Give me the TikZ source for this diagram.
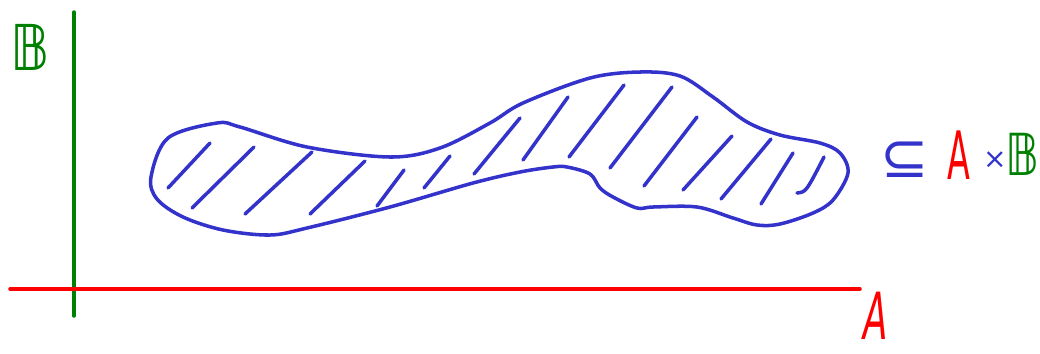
\documentclass[tikz,border=0pt]{standalone}
\usepackage{fontspec}
\usepackage{graphicx}
\newfontfamily\handfont{DejaVu Sans}
\definecolor{penblue}{RGB}{51,51,204}
\definecolor{penred}{RGB}{255,0,0}
\definecolor{pengreen}{RGB}{0,128,0}

\begin{document}
\begin{tikzpicture}[x=0.02cm, y=-0.02cm,
    pen/.style={line width=2pt, line cap=round, line join=round},
    hand/.style={inner sep=0pt, font=\fontsize{#1}{#1}\selectfont\handfont}]
    \useasboundingbox (0,0) rectangle (1040,353);

    % Axes
    \draw[pen, pengreen] (74,12) -- (74,316);
    \draw[pen, penred] (10,289) -- (860,289);

    % Axis labels
    \node[pengreen, hand=36] (labB) at (30,47) {\scalebox{0.85}[1]{𝔹}};
    \node[penred, hand=37] (labA) at (876,316) {\scalebox{0.55}[1]{\itshape A}};

    % The subset (outline)
    \draw[pen, penblue] plot[smooth cycle, tension=0.55] coordinates {
        (151,177) (168,138) (217,123) (240,127) (307,147) (390,157)
        (440,148) (490,123) (523,103) (590,78) (640,72) (680,76)
        (713,97) (747,122) (780,135) (820,143) (840,153) (848,173)
        (833,200) (813,213) (780,224) (757,225) (733,218) (697,207)
        (653,207) (637,208) (613,197) (600,188) (590,174) (567,167)
        (553,167) (520,172) (473,183) (390,207) (307,228) (270,235)
        (223,230) (183,217) (157,199)};

    % Hatching
    \foreach \xa/\ya/\xb/\yb in {168/188/210/143, 192/208/254/147, 245/214/312/152,
        310/214/365/161, 377/206/404/170, 424/188/450/156, 474/174/520/118,
        523/160/568/97, 569/157/624/85, 610/168/672/87, 644/186/697/117,
        683/190/732/136, 721/199/771/139, 761/204/793/153}
        \draw[pen, penblue] (\xa,\ya) -- (\xb,\yb);
    \draw[pen, penblue] (797,193) .. controls (806,192) .. (824,157);

    % Relation label
    \node[penblue, hand=33] (subs) at (905,160) {⊆};
    \node[penred, hand=38] (prodA) at (959,155) {\scalebox{0.5}[1]{A}};
    \node[penblue, hand=16] (times) at (995,160) {×};
    \node[pengreen, hand=33] (prodB) at (1022,154) {\scalebox{0.8}[1]{𝔹}};
\end{tikzpicture}
\end{document}
